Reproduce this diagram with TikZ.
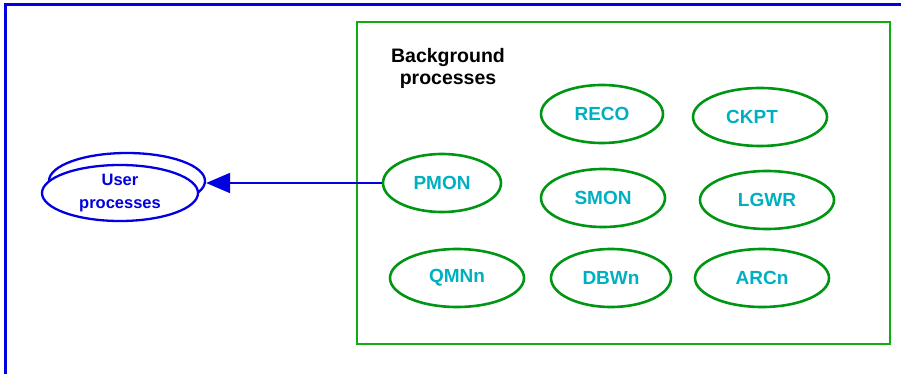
\documentclass[tikz,border=0pt]{standalone}
\usepackage{fontspec}
\setmainfont{Liberation Sans}
\usetikzlibrary{shapes.geometric,arrows.meta}
\definecolor{procgreen}{RGB}{0,150,20}
\definecolor{boxgreen}{RGB}{20,170,20}
\definecolor{proctext}{RGB}{0,176,192}
\definecolor{userblue}{RGB}{0,0,225}
\tikzset{
  proc/.style={ellipse, draw=procgreen, line width=2.6pt, inner sep=0pt,
    minimum width=#1, minimum height=58pt, text=proctext,
    font=\fontsize{19}{22}\selectfont\bfseries},
  proc/.default=130pt,
  userell/.style={ellipse, draw=userblue, line width=2.3pt, fill=white, inner sep=0pt,
    minimum width=156pt, minimum height=56pt},
}
\begin{document}
\begin{tikzpicture}[x=1pt,y=-1pt]
\useasboundingbox (0,0) rectangle (901,374);
\draw[userblue, line width=3pt] (5,380) -- (5,5) -- (910,5);
\draw[boxgreen, line width=2pt] (357,22) rectangle (890,344);
\node[align=center, font=\fontsize{19.5}{22}\selectfont\bfseries] (bg) at (448,68) {Background\\processes};
\node[proc=122pt] (reco) at (602,114) {RECO};
\node[proc=134pt] (ckpt) at (760,117) {\hspace*{-16pt}CKPT};
\node[proc=118pt] (pmon) at (442,183) {PMON};
\node[proc=124pt] (smon) at (603,198) {SMON};
\node[proc=134pt] (lgwr) at (767,200) {LGWR};
\node[proc=134pt] (qmnn) at (457,278) {QMNn};
\node[proc=120pt] (dbwn) at (611,278) {DBWn};
\node[proc=134pt] (arcn) at (762,278) {ARCn};
\node[userell] (userback) at (127,181) {};
\node[userell, align=center, text=userblue, font=\fontsize{16.5}{23}\selectfont\bfseries] (user) at (120,193) {User\\processes};
\draw[userblue, line width=2pt, -{Triangle[length=24pt,width=20pt]}] (pmon.west) -- (userback.east |- pmon.west);
\end{tikzpicture}
\end{document}
